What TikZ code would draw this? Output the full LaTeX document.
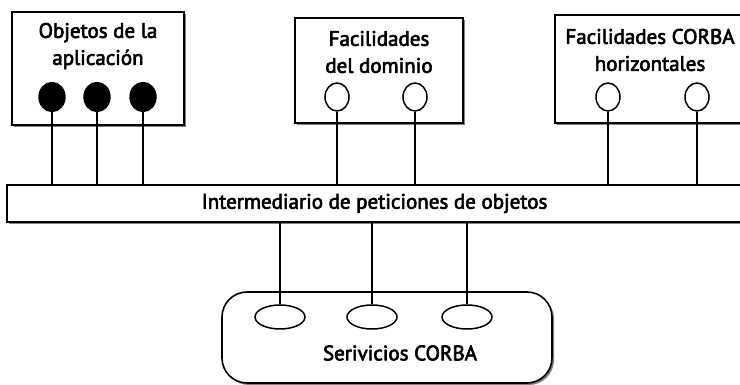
\documentclass[tikz,border=0pt]{standalone}
\usepackage{fontspec}
\setmainfont{PT Sans}
\newfontfamily\lblfont{PT Sans}[FakeBold=3]
\usetikzlibrary{positioning,shadows,shapes.geometric}

\begin{document}
\begin{tikzpicture}[x=1pt,y=1pt,
  box/.style={draw,line width=1.6pt,fill=white,inner sep=0pt,drop shadow={shadow xshift=2pt,shadow yshift=-2pt,fill=black!50,opacity=1}},
  lbl/.style={align=center,font=\lblfont\fontsize{21}{27}\selectfont},
  fullport/.style={ellipse,draw,line width=1.4pt,fill=black,minimum width=26pt,minimum height=29pt,inner sep=0pt},
  openport/.style={ellipse,draw,line width=1.5pt,fill=white,minimum width=24pt,minimum height=28pt,inner sep=0pt},
  svcport/.style={ellipse,draw,line width=1.5pt,fill=white,minimum width=50pt,minimum height=24pt,inner sep=0pt},
  wire/.style={line width=1.2pt}
]
\useasboundingbox (0,0) rectangle (740,385);
\clip (0,0) rectangle (740,385);
% upper boxes
\node[box,minimum width=172pt,minimum height=113pt] (app) at (98,316.5) {};
\node[lbl] (apptxt) at (98,339) {Objetos de la\\aplicación};
\node[box,minimum width=168pt,minimum height=105pt] (dom) at (379,314.5) {};
\node[lbl] (domtxt) at (379,333) {Facilidades\\del dominio};
\node[box,minimum width=190pt,minimum height=108pt] (hor) at (650,316) {};
\node[lbl] (hortxt) at (650,335) {Facilidades CORBA\\horizontales};
% bus
\node[box,minimum width=735pt,minimum height=37pt,font=\lblfont\fontsize{21}{24}\selectfont] (orb) at (374.5,181.5) {Intermediario de peticiones de objetos};
% services
\node[box,rounded corners=25pt,minimum width=330pt,minimum height=91pt] (svc) at (387,47.5) {};
\node[lbl] (svctxt) at (400,32) {Serivicios CORBA};
% ports
\node[fullport] (a1) at (52,288) {};
\node[fullport] (a2) at (97,288) {};
\node[fullport] (a3) at (143,288) {};
\node[openport] (d1) at (337,288) {};
\node[openport] (d2) at (415,288) {};
\node[openport] (h1) at (608,288) {};
\node[openport] (h2) at (697,288) {};
\node[svcport] (s1) at (280,68) {};
\node[svcport] (s2) at (372,68) {};
\node[svcport] (s3) at (467,68) {};
% connectors
\foreach \p in {a1,a2,a3,d1,d2,h1,h2}
  \draw[wire] (\p) -- (\p |- orb.north);
\foreach \p in {s1,s2,s3}
  \draw[wire] (\p) -- (\p |- orb.south);
\end{tikzpicture}
\end{document}
